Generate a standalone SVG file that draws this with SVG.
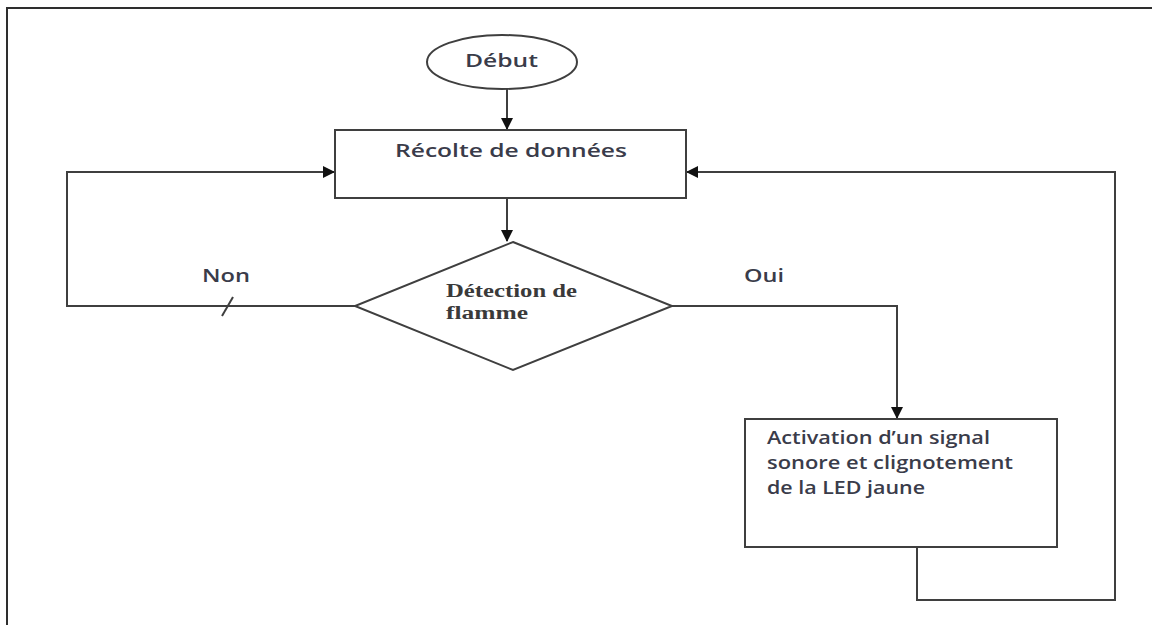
<svg xmlns="http://www.w3.org/2000/svg" width="1152" height="625" viewBox="0 0 1152 625">
  <style>
    .shape { fill: #ffffff; stroke: #3f3f3f; stroke-width: 2; }
    .wire { fill: none; stroke: #3f3f3f; stroke-width: 2; }
    .lbl { font-family: "Open Sans", "Liberation Sans", sans-serif; font-size: 18px; font-weight: 600; fill: #3a3c4a; }
    .serif { font-family: "Liberation Serif", serif; font-size: 18px; font-weight: bold; fill: #3a3a3a; }
  </style>
  <defs>
    <marker id="head" markerWidth="12" markerHeight="12" refX="11" refY="6" orient="auto" markerUnits="userSpaceOnUse">
      <path d="M0,0 L12,6 L0,12 Z" fill="#111"/>
    </marker>
  </defs>

  <rect x="0" y="0" width="1152" height="625" fill="#ffffff"/>
  <!-- page frame -->
  <path d="M7,625 V8 H1152" fill="none" stroke="#2e2e2e" stroke-width="2"/>

  <g id="connectors">
    <path class="wire" d="M507,89 V129" marker-end="url(#head)"/>
    <path class="wire" d="M507,198 V241" marker-end="url(#head)"/>
    <path class="wire" d="M355,306 H67 V172 H334" marker-end="url(#head)"/>
    <path class="wire" d="M222,316 L233,297"/>
    <path class="wire" d="M672,306 H897 V418" marker-end="url(#head)"/>
    <path class="wire" d="M917,547 V600 H1115 V172 H687" marker-end="url(#head)"/>
    <text class="lbl" x="202" y="282" textLength="48" lengthAdjust="spacingAndGlyphs">Non</text>
    <text class="lbl" x="744" y="282" textLength="40" lengthAdjust="spacingAndGlyphs">Oui</text>
  </g>

  <g id="debut">
    <ellipse class="shape" cx="502" cy="62" rx="75" ry="27"/>
    <text class="lbl" x="465" y="67" textLength="73" lengthAdjust="spacingAndGlyphs">Début</text>
  </g>

  <g id="recolte">
    <rect class="shape" x="335" y="130" width="351" height="68"/>
    <text class="lbl" x="395" y="157" textLength="232" lengthAdjust="spacingAndGlyphs">Récolte de données</text>
  </g>

  <g id="detection">
    <polygon class="shape" points="513,242 672,306 513,370 355,306"/>
    <text class="serif" x="446" y="297" textLength="131" lengthAdjust="spacingAndGlyphs">Détection de</text>
    <text class="serif" x="446" y="319" textLength="82" lengthAdjust="spacingAndGlyphs">flamme</text>
  </g>

  <g id="activation">
    <rect class="shape" x="745" y="419" width="312" height="128"/>
    <text class="lbl" x="767" y="444" textLength="223" lengthAdjust="spacingAndGlyphs">Activation d’un signal</text>
    <text class="lbl" x="767" y="469" textLength="246" lengthAdjust="spacingAndGlyphs">sonore et clignotement</text>
    <text class="lbl" x="767" y="494" textLength="158" lengthAdjust="spacingAndGlyphs">de la LED jaune</text>
  </g>
</svg>
